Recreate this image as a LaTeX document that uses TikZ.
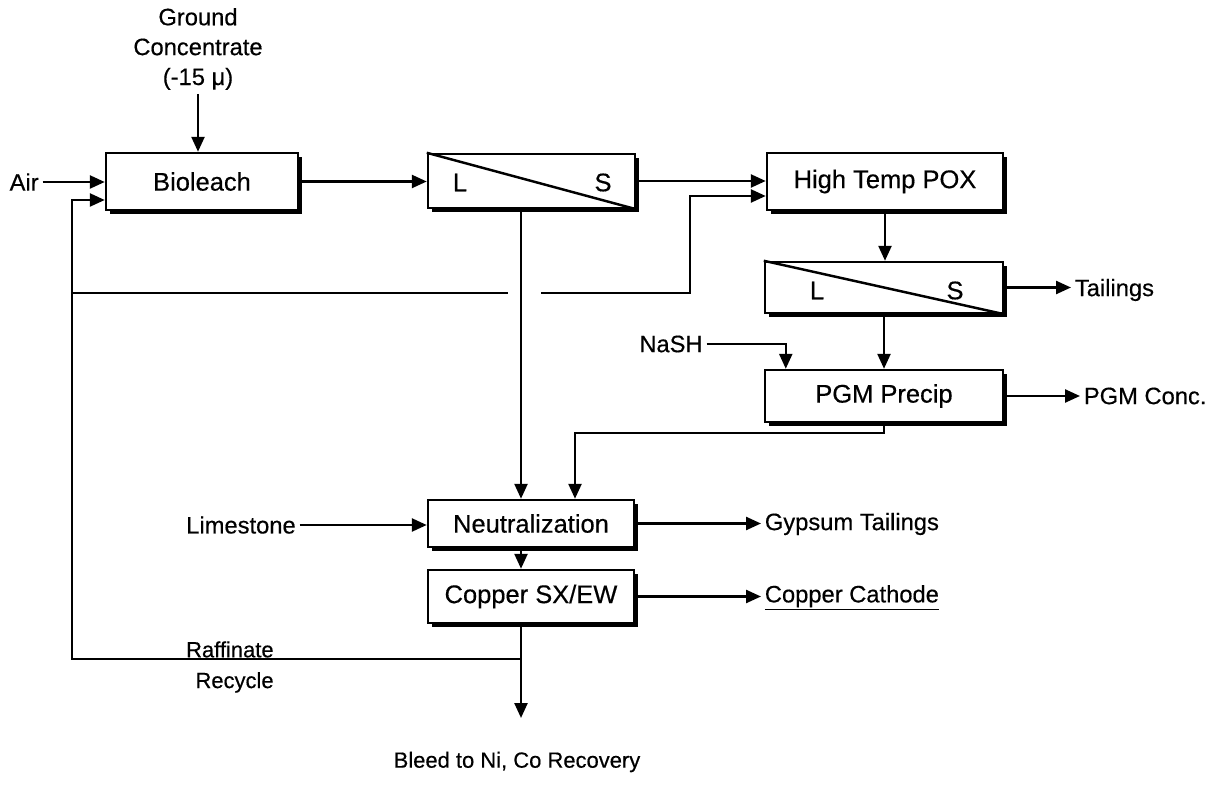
\documentclass[tikz,border=0pt]{standalone}
\usepackage{fontspec}
\setmainfont{Liberation Sans}[FakeBold=0.4]
\usepackage{tikz}
\usetikzlibrary{arrows.meta,positioning,calc,shadows}
\tikzset{
  unitbox/.style={draw=black, line width=1.4pt, fill=white, align=center, inner sep=4pt, font=\fontsize{14.5}{17}\selectfont, drop shadow={shadow xshift=0.8mm, shadow yshift=-0.8mm, fill=black, opacity=1}},
  splitbox/.style={unitbox},
  splitlbl/.style={inner sep=1pt, font=\fontsize{14.5}{17}\selectfont},
  feedtext/.style={inner sep=2pt, align=center, font=\fontsize{13.5}{17}\selectfont},
  flowline/.style={-{Triangle[length=3mm,width=2.6mm]}, line width=1.4pt},
  plainline/.style={line width=1.4pt}
}
\begin{document}
\begin{tikzpicture}
  \useasboundingbox (0,0) rectangle (24.24,15.78);

  \node[feedtext] (ground) at (3.96,14.8) {Ground\\Concentrate\\(-15 μ)};
  \node[feedtext, anchor=east] (air) at (0.85,12.14) {Air};
  \node[unitbox, minimum width=3.84cm, minimum height=1.14cm] (bio) at (4.04,12.15) {Bioleach};

  \node[splitbox, minimum width=4.14cm, minimum height=1.08cm] (sep1) at (10.63,12.16) {};
  \draw[plainline] (sep1.north west) -- (sep1.south east);
  \node[splitlbl] (sep1L) at (9.2,12.13) {L};
  \node[splitlbl] (sep1S) at (12.06,12.13) {S};

  \node[unitbox, minimum width=4.72cm, minimum height=1.14cm] (pox) at (17.7,12.15) {High Temp POX};

  \node[splitbox, minimum width=4.76cm, minimum height=1.02cm] (sep2) at (17.68,10.03) {};
  \draw[plainline] (sep2.north west) -- (sep2.south east);
  \node[splitlbl] (sep2L) at (16.34,9.97) {L};
  \node[splitlbl] (sep2S) at (19.1,9.97) {S};
  \node[feedtext, anchor=west] (tail) at (21.42,9.98) {Tailings};

  \node[feedtext] (nash) at (13.42,8.9) {NaSH};
  \node[unitbox, minimum width=4.76cm, minimum height=1.04cm] (pgm) at (17.68,7.86) {PGM Precip};
  \node[feedtext, anchor=west] (pgmc) at (21.6,7.86) {PGM Conc.};

  \node[feedtext] (lime) at (4.82,5.28) {Limestone};
  \node[unitbox, minimum width=4.12cm, minimum height=0.94cm] (neut) at (10.62,5.31) {Neutralization};
  \node[feedtext, anchor=west] (gyp) at (15.22,5.3) {Gypsum Tailings};

  \node[unitbox, minimum width=4.12cm, minimum height=1.06cm] (cu) at (10.62,3.85) {Copper SX/EW};
  \node[feedtext, anchor=west] (cath) at (15.22,3.82) {\underline{Copper Cathode}};

  \node[feedtext, align=right, anchor=east, font=\fontsize{12.5}{17.5}\selectfont] (raff) at (5.55,2.44) {Raffinate\\Recycle};
  \node[feedtext, font=\fontsize{12.5}{15}\selectfont] (bleed) at (10.34,0.54) {Bleed to Ni, Co Recovery};

  \coordinate (mainx) at (10.42,0);
  \coordinate (split) at (10.42,2.6);
  \coordinate (bleedend) at (10.42,1.42);
  \coordinate (bioin) at (1.44,11.78);
  \coordinate (rcyjoin) at (1.44,9.92);
  \coordinate (gapl) at (10.16,9.92);
  \coordinate (gapr) at (10.82,9.92);
  \coordinate (poxup) at (13.8,11.86);
  \coordinate (nashin) at ($(pgm.north west)+(0.44,0)$);
  \coordinate (pgmbend) at (11.5,7.12);

  \draw[flowline] (ground.south) -- (ground.south |- bio.north);
  \draw[flowline] (air.east) -- (air.east -| bio.west);
  \draw[flowline] (bio.east) -- (bio.east -| sep1.west);
  \draw[flowline] (sep1.east) -- (sep1.east -| pox.west);
  \draw[flowline] (pox.south) -- (pox.south |- sep2.north);
  \draw[flowline] (sep2.east) -- (sep2.east -| tail.west);
  \draw[flowline] (sep2.south) -- (sep2.south |- pgm.north);
  \draw[flowline] (nash.east) -| (nashin);
  \draw[flowline] (pgm.east) -- (pgm.east -| pgmc.west);
  \draw[flowline] (pgm.south) |- (pgmbend) -- (pgmbend |- neut.north);
  \draw[flowline] (mainx |- sep1.south) -- (mainx |- neut.north);
  \draw[flowline] (lime.east) -- (lime.east -| neut.west);
  \draw[flowline] (neut.east) -- (neut.east -| gyp.west);
  \draw[flowline] (mainx |- neut.south) -- (mainx |- cu.north);
  \draw[flowline] (cu.east) -- (cu.east -| cath.west);
  \draw[flowline] (mainx |- cu.south) -- (bleedend);
  \draw[flowline] (split) -| (bioin) -- (bioin -| bio.west);
  \draw[plainline] (rcyjoin) -- (gapl);
  \draw[flowline] (gapr) -| (poxup) -- (poxup -| pox.west);
\end{tikzpicture}
\end{document}
